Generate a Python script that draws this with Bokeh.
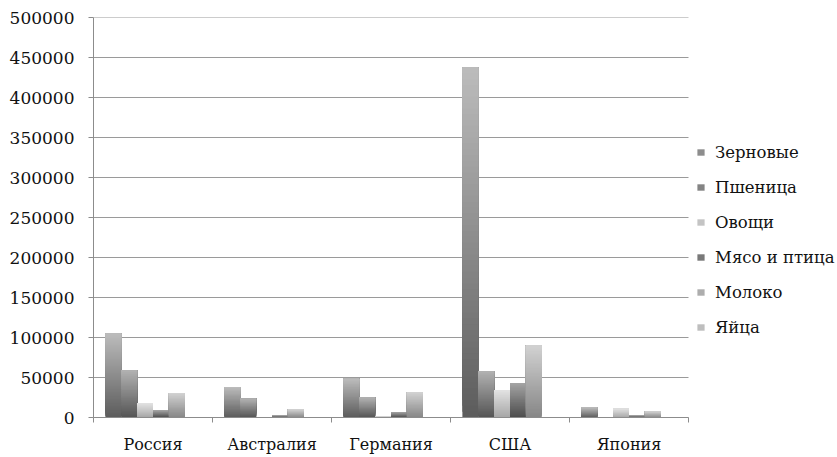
from bokeh.plotting import figure
from bokeh.models import (ColumnDataSource, FixedTicker, Legend, LegendItem,
                          Range1d)
from bokeh.embed import file_html
from bokeh.resources import INLINE

# Production by country (thousand tonnes)
countries = ["Россия", "Австралия", "Германия", "США", "Япония"]
series_names = ["Зерновые", "Пшеница", "Овощи", "Мясо и птица", "Молоко", "Яйца"]
grain = [105000, 38000, 48500, 437500, 12500]
wheat = [59000, 23500, 25000, 58000, 0]
vegetables = [17500, 0, 1000, 34000, 11000]
meat = [9000, 3000, 7000, 43000, 3000]
milk = [30500, 10000, 31500, 90000, 7500]
eggs = [0, 0, 0, 0, 0]
series_values = [grain, wheat, vegetables, meat, milk, eggs]
y_ticks = list(range(0, 500001, 50000))

# gradient endpoints per series: (bottom colour, top colour)
gradients = [
    ((0x5c, 0x5c, 0x5c), (0xbc, 0xbc, 0xbc)),
    ((0x55, 0x55, 0x55), (0xb2, 0xb2, 0xb2)),
    ((0xa6, 0xa6, 0xa6), (0xe2, 0xe2, 0xe2)),
    ((0x4c, 0x4c, 0x4c), (0xa4, 0xa4, 0xa4)),
    ((0x86, 0x86, 0x86), (0xd2, 0xd2, 0xd2)),
    ((0x9e, 0x9e, 0x9e), (0xdc, 0xdc, 0xdc)),
]

FONT = "DejaVu Serif"
STEPS = 60
n_series = len(series_names)
n_cat = len(countries)
bar_w = 1.0 / (n_series + 1.5)
gap = 0.75 * bar_w

# plotting frame spans the whole width; the category area is 595 px of 744,
# the rest on the right holds the legend
CAT_PX, FRAME_PX = 595, 744
x_end = n_cat * FRAME_PX / CAT_PX

p = figure(width=837, height=457, output_backend="svg", toolbar_location=None,
           x_range=Range1d(0, x_end), y_range=Range1d(0, 500000),
           min_border_left=93, min_border_right=0, min_border_top=17,
           min_border_bottom=40)
p.outline_line_color = None
p.background_fill_color = "white"
p.xgrid.grid_line_color = None
p.ygrid.grid_line_color = None

# horizontal grid lines across the category area only
p.segment(x0=[0] * len(y_ticks), x1=[n_cat] * len(y_ticks), y0=y_ticks,
          y1=y_ticks, line_color="#9a9a9a", line_width=1)

legend_items = []
for j, (name, vals) in enumerate(zip(series_names, series_values)):
    (b0, b1) = gradients[j]
    lefts, rights, bottoms, tops, colors = [], [], [], [], []
    for i, v in enumerate(vals):
        x0 = i + gap + j * bar_w
        # each layer runs from its start height up to the bar's top, so the
        # layers painted later cover the upper part and leave no seams
        for k in range(STEPS):
            t = (k + 0.5) / STEPS
            c = tuple(int(round(b0[m] + (b1[m] - b0[m]) * t)) for m in range(3))
            lefts.append(x0)
            rights.append(x0 + bar_w)
            bottoms.append(v * k / STEPS)
            tops.append(v)
            colors.append("#%02x%02x%02x" % c)
    src = ColumnDataSource(dict(left=lefts, right=rights, bottom=bottoms,
                                top=tops, color=colors))
    r = p.quad(left="left", right="right", bottom="bottom", top="top",
               fill_color="color", line_color=None, source=src)
    legend_items.append(LegendItem(label=name, renderers=[r], index=STEPS // 2))

# axes
p.xaxis.bounds = (0, n_cat)
p.xaxis.ticker = FixedTicker(ticks=[i + 0.5 for i in range(n_cat)],
                             minor_ticks=list(range(n_cat + 1)))
p.xaxis.major_label_overrides = {i + 0.5: c for i, c in enumerate(countries)}
p.xaxis.major_tick_out = 0
p.xaxis.major_tick_in = 0
p.xaxis.minor_tick_out = 5
p.xaxis.minor_tick_in = 0
p.xaxis.minor_tick_line_color = "#8c8c8c"
p.xaxis.axis_line_color = "#8c8c8c"
p.xaxis.major_label_standoff = 12
p.xaxis.major_label_text_font = FONT
p.xaxis.major_label_text_font_size = "16px"
p.xaxis.major_label_text_color = "#111111"

p.yaxis.ticker = FixedTicker(ticks=y_ticks)
p.yaxis.formatter.use_scientific = False
p.yaxis.major_tick_out = 5
p.yaxis.major_tick_in = 0
p.yaxis.minor_tick_line_color = None
p.yaxis.major_tick_line_color = "#8c8c8c"
p.yaxis.axis_line_color = "#8c8c8c"
p.yaxis.major_label_standoff = 14
p.yaxis.major_label_text_font = FONT
p.yaxis.major_label_text_font_size = "17px"
p.yaxis.major_label_text_color = "#111111"

legend = Legend(items=legend_items, location=(603, 80),
                background_fill_alpha=0, border_line_color=None,
                label_text_font=FONT, label_text_font_size="16.5px",
                label_text_color="#111111", glyph_width=9, glyph_height=8,
                label_height=20, spacing=15, padding=10, margin=0,
                label_standoff=10)
p.add_layout(legend, "center")

open("out.html", "w").write(file_html(p, INLINE))
